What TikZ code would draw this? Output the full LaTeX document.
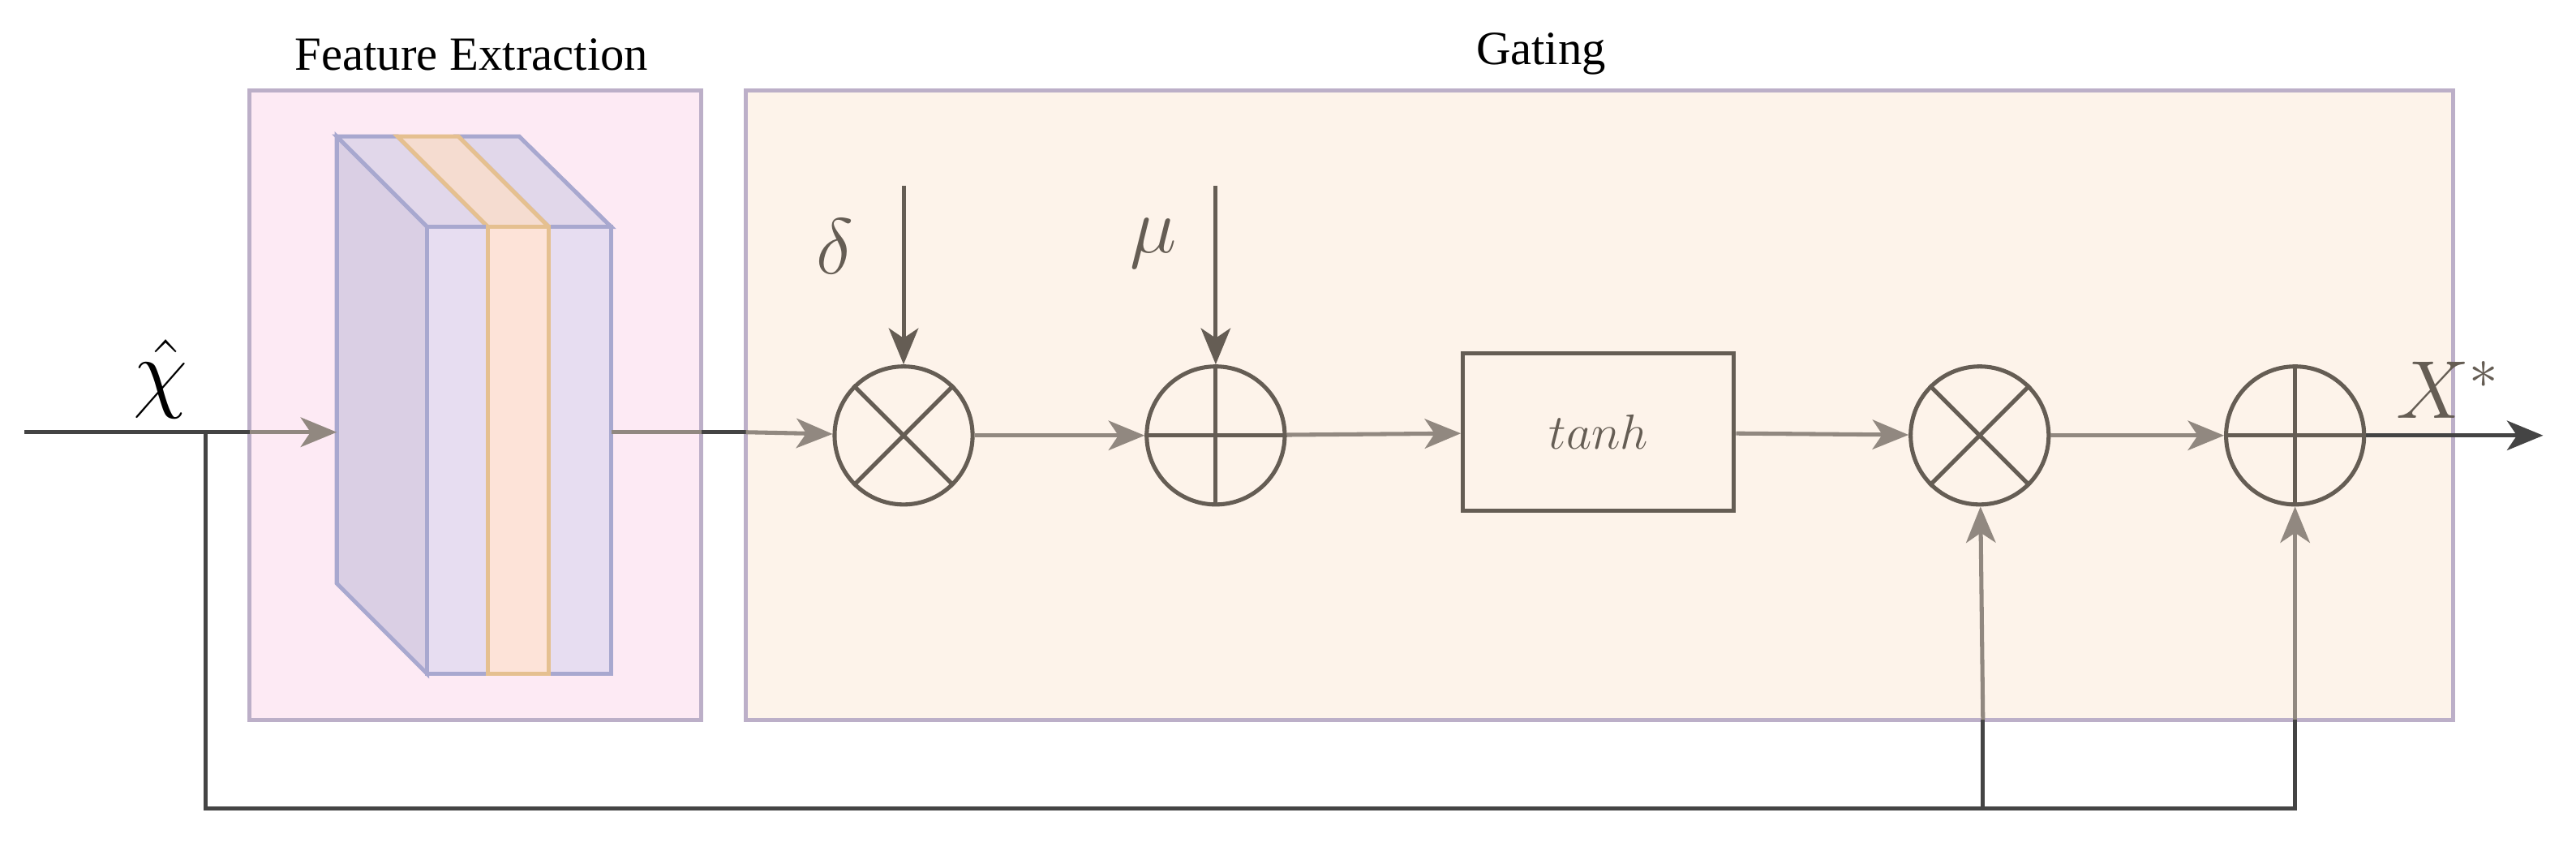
\RequirePackage{fix-cm}
\documentclass[tikz,border=0pt]{standalone}
\usepackage{fontspec}
\setmainfont{Liberation Serif}
\usetikzlibrary{arrows.meta}
\definecolor{boxl}{HTML}{BCAFC8}
\definecolor{pinkf}{HTML}{FDEAF4}
\definecolor{gatef}{HTML}{FDF3EA}
\definecolor{pedge}{HTML}{A8A8CF}
\definecolor{pside}{HTML}{DACFE4}
\definecolor{pfront}{HTML}{E7DDF1}
\definecolor{ptop}{HTML}{E1D7EA}
\definecolor{oedge}{HTML}{E5C090}
\definecolor{ofront}{HTML}{FDE3D8}
\definecolor{otop}{HTML}{F5DCD0}
\definecolor{dk}{HTML}{655D54}
\definecolor{lg}{HTML}{918880}
\definecolor{blk}{HTML}{444444}
\begin{document}
\begin{tikzpicture}[x=1pt,y=-1pt,
  tip/.style={-{Stealth[length=22pt,width=18pt,inset=6pt]}},
  frame/.style={draw=boxl,line width=2.5pt},
  op/.style={circle,draw=dk,line width=2.5pt,minimum size=84pt,inner sep=0pt},
  lbl/.style={font=\fontsize{29}{32}\selectfont},
  conn/.style={line width=2.5pt,draw=lg,tip}]
\useasboundingbox (0,0) rectangle (1568,515);
% boxes
\draw[frame,fill=pinkf] (152,55) rectangle (427,438);
\draw[frame,fill=gatef] (454,55) rectangle (1493,438);
\node[lbl] (tfe) at (287,33) {Feature Extraction};
\node[lbl] (tg) at (938,33) {Gating};
% block
\begin{scope}[line width=2.5pt,line join=miter]
\draw[pedge,fill=pside] (205,83) -- (260,138) -- (260,410) -- (205,355) -- cycle;
\draw[pedge,fill=ptop] (205,83) -- (242,83) -- (297,138) -- (260,138) -- cycle;
\draw[pedge,fill=ptop] (279,83) -- (316,83) -- (372,138) -- (334,138) -- cycle;
\draw[oedge,fill=otop] (242,83) -- (279,83) -- (334,138) -- (297,138) -- cycle;
\draw[pedge,fill=pfront] (260,138) rectangle (297,410);
\draw[pedge,fill=pfront] (334,138) rectangle (372,410);
\draw[oedge,fill=ofront] (297,138) rectangle (334,410);
\end{scope}
\coordinate (bin) at (205,263);
\coordinate (bout) at (372,263);
\coordinate (start) at (15,263);
\coordinate (br) at (125,263);
% operators
\node[op] (m1) at (550,265) {};
\draw[dk,line width=2.5pt] (m1.45)--(m1.225) (m1.135)--(m1.315);
\node[op] (a1) at (740,265) {};
\draw[dk,line width=2.5pt] (a1.north)--(a1.south) (a1.west)--(a1.east);
\node[draw=dk,line width=2.5pt,minimum width=165pt,minimum height=96pt,font=\fontsize{30}{34}\selectfont,text=dk] (th) at (973,263) {$tanh$};
\node[op] (m2) at (1205,265) {};
\draw[dk,line width=2.5pt] (m2.45)--(m2.225) (m2.135)--(m2.315);
\node[op] (a2) at (1397,265) {};
\draw[dk,line width=2.5pt] (a2.north)--(a2.south) (a2.west)--(a2.east);
% connectors
\draw[line width=2.5pt,blk] (start) -- (152,263);
\draw[conn] (152,263) -- (bin);
\draw[line width=2.5pt,lg] (bout) -- (427,263);
\draw[line width=2.5pt,blk] (427,263) -- (454,263);
\draw[conn] (454,263) -- (m1);
\draw[conn] (m1) -- (a1);
\draw[conn] (a1) -- (th);
\draw[conn] (th) -- (m2);
\draw[conn] (m2) -- (a2);
\coordinate (out) at (1548,265);
\draw[line width=2.5pt,draw=blk,tip] (a2) -- (out);
\coordinate (d0) at (550,113);
\coordinate (u0) at (740,113);
\draw[line width=2.5pt,draw=dk,tip] (d0) -- (m1);
\draw[line width=2.5pt,draw=dk,tip] (u0) -- (a1);
\node[font=\fontsize{48}{52}\selectfont,text=dk] (dl) at (508,150) {$\delta$};
\node[font=\fontsize{48}{52}\selectfont,text=dk] (ml) at (702,148) {$\mu$};
\node[font=\fontsize{54}{58}\selectfont,anchor=south] (xh) at (98,258) {$\hat{\chi}$};
\node[font=\fontsize{50}{54}\selectfont,text=dk,anchor=south] (xs) at (1490,258) {$X^{*}$};
% feedback
\coordinate (c1) at (125,492);
\coordinate (c2) at (1207,492);
\coordinate (c3) at (1397,492);
\draw[line width=2.5pt,blk] (br) -- (c1) -- (c3) -- (1397,438);
\draw[line width=2.5pt,blk] (c2) -- (1207,438);
\draw[conn] (1207,438) -- (m2);
\draw[conn] (1397,438) -- (a2);
\end{tikzpicture}
\end{document}
